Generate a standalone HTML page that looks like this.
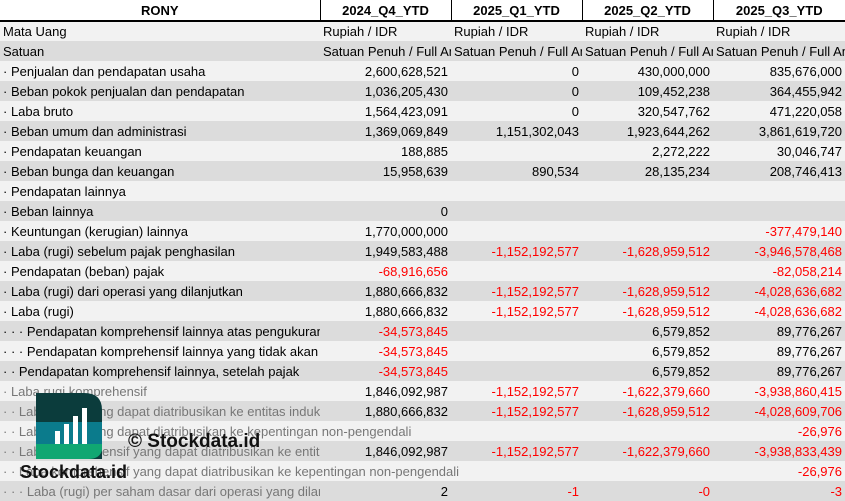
<!DOCTYPE html>
<html><head><meta charset="utf-8"><style>
body{margin:0;width:845px;height:501px;overflow:hidden;background:#fff;font-family:"Liberation Sans",sans-serif;font-size:13px;color:#000;position:relative}
table{border-collapse:collapse;table-layout:fixed;width:845px;position:absolute;top:0;left:0}
td{height:20px;padding:0 3px;white-space:nowrap;overflow:hidden;box-sizing:border-box;line-height:19px}
tr.h td{background:#fff;font-weight:bold;text-align:center;border-left:1px solid #000;border-bottom:2px solid #000;height:21px;line-height:19px}
tr.h td:first-child{border-left:none}
tr:nth-child(even) td{background:#f2f2f2}
tr:nth-child(odd):not(.h) td{background:#dcdcdc}
td.n{text-align:right}
td.r{color:#f00}
.wm td.lbl{color:#777}
</style></head><body>
<table>
<colgroup><col style="width:320px"><col style="width:131px"><col style="width:131px"><col style="width:131px"><col style="width:132px"></colgroup>
<tr class="h"><td>RONY</td><td>2024_Q4_YTD</td><td>2025_Q1_YTD</td><td>2025_Q2_YTD</td><td>2025_Q3_YTD</td></tr>
<tr><td>Mata Uang</td><td>Rupiah / IDR</td><td>Rupiah / IDR</td><td>Rupiah / IDR</td><td>Rupiah / IDR</td></tr>
<tr><td>Satuan</td><td>Satuan Penuh / Full Amount</td><td>Satuan Penuh / Full Amount</td><td>Satuan Penuh / Full Amount</td><td>Satuan Penuh / Full Amount</td></tr>
<tr><td>· Penjualan dan pendapatan usaha</td><td class="n">2,600,628,521</td><td class="n">0</td><td class="n">430,000,000</td><td class="n">835,676,000</td></tr>
<tr><td>· Beban pokok penjualan dan pendapatan</td><td class="n">1,036,205,430</td><td class="n">0</td><td class="n">109,452,238</td><td class="n">364,455,942</td></tr>
<tr><td>· Laba bruto</td><td class="n">1,564,423,091</td><td class="n">0</td><td class="n">320,547,762</td><td class="n">471,220,058</td></tr>
<tr><td>· Beban umum dan administrasi</td><td class="n">1,369,069,849</td><td class="n">1,151,302,043</td><td class="n">1,923,644,262</td><td class="n">3,861,619,720</td></tr>
<tr><td>· Pendapatan keuangan</td><td class="n">188,885</td><td class="n"></td><td class="n">2,272,222</td><td class="n">30,046,747</td></tr>
<tr><td>· Beban bunga dan keuangan</td><td class="n">15,958,639</td><td class="n">890,534</td><td class="n">28,135,234</td><td class="n">208,746,413</td></tr>
<tr><td>· Pendapatan lainnya</td><td></td><td></td><td></td><td></td></tr>
<tr><td>· Beban lainnya</td><td class="n">0</td><td></td><td></td><td></td></tr>
<tr><td>· Keuntungan (kerugian) lainnya</td><td class="n">1,770,000,000</td><td></td><td></td><td class="n r">-377,479,140</td></tr>
<tr><td>· Laba (rugi) sebelum pajak penghasilan</td><td class="n">1,949,583,488</td><td class="n r">-1,152,192,577</td><td class="n r">-1,628,959,512</td><td class="n r">-3,946,578,468</td></tr>
<tr><td>· Pendapatan (beban) pajak</td><td class="n r">-68,916,656</td><td></td><td></td><td class="n r">-82,058,214</td></tr>
<tr><td>· Laba (rugi) dari operasi yang dilanjutkan</td><td class="n">1,880,666,832</td><td class="n r">-1,152,192,577</td><td class="n r">-1,628,959,512</td><td class="n r">-4,028,636,682</td></tr>
<tr><td>· Laba (rugi)</td><td class="n">1,880,666,832</td><td class="n r">-1,152,192,577</td><td class="n r">-1,628,959,512</td><td class="n r">-4,028,636,682</td></tr>
<tr><td>· · · Pendapatan komprehensif lainnya atas pengukuran</td><td class="n r">-34,573,845</td><td></td><td class="n">6,579,852</td><td class="n">89,776,267</td></tr>
<tr><td>· · · Pendapatan komprehensif lainnya yang tidak akan</td><td class="n r">-34,573,845</td><td></td><td class="n">6,579,852</td><td class="n">89,776,267</td></tr>
<tr><td>· · Pendapatan komprehensif lainnya, setelah pajak</td><td class="n r">-34,573,845</td><td></td><td class="n">6,579,852</td><td class="n">89,776,267</td></tr>
<tr class="wm"><td class="lbl">· Laba rugi komprehensif</td><td class="n">1,846,092,987</td><td class="n r">-1,152,192,577</td><td class="n r">-1,622,379,660</td><td class="n r">-3,938,860,415</td></tr>
<tr class="wm"><td class="lbl">· · Laba (rugi) yang dapat diatribusikan ke entitas induk</td><td class="n">1,880,666,832</td><td class="n r">-1,152,192,577</td><td class="n r">-1,628,959,512</td><td class="n r">-4,028,609,706</td></tr>
<tr class="wm"><td class="lbl" colspan="4">· · Laba (rugi) yang dapat diatribusikan ke kepentingan non-pengendali</td><td class="n r">-26,976</td></tr>
<tr class="wm"><td class="lbl">· · Laba komprehensif yang dapat diatribusikan ke entitas induk</td><td class="n">1,846,092,987</td><td class="n r">-1,152,192,577</td><td class="n r">-1,622,379,660</td><td class="n r">-3,938,833,439</td></tr>
<tr class="wm"><td class="lbl" colspan="4">· · Laba komprehensif yang dapat diatribusikan ke kepentingan non-pengendali</td><td class="n r">-26,976</td></tr>
<tr class="wm"><td class="lbl">· · · Laba (rugi) per saham dasar dari operasi yang dilanjutkan</td><td class="n">2</td><td class="n r">-1</td><td class="n r">-0</td><td class="n r">-3</td></tr>
</table>
<div style="position:absolute;left:0;top:0;width:845px;height:501px;pointer-events:none">
<svg width="845" height="501" style="position:absolute;left:0;top:0">
<path d="M36 393 H84 Q102 393 102 410 V459 H36 Z" fill="#0b3c3c"/>
<rect x="36" y="422" width="66" height="22" fill="#0b7b8c"/>
<path d="M36 444 H102 V450 Q100 459 88 459 H36 Z" fill="#10a772"/>
<rect x="55" y="431" width="5" height="13" fill="#fff"/>
<rect x="64" y="424" width="5" height="20" fill="#fff"/>
<rect x="73" y="416" width="5" height="28" fill="#fff"/>
<rect x="82" y="408" width="5" height="36" fill="#fff"/>
<text x="20" y="478" font-family="Liberation Sans" font-weight="bold" font-size="18" fill="#111">Stockdata.id</text>
<text x="128" y="447" font-family="Liberation Sans" font-weight="bold" font-size="19" fill="#111">© Stockdata.id</text>
</svg></div>
</body></html>
